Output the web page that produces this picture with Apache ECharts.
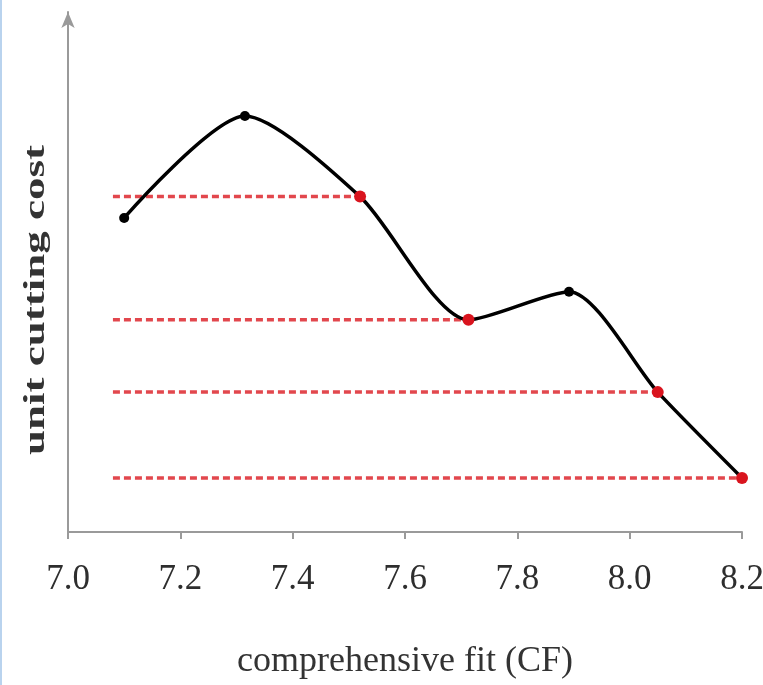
<!DOCTYPE html>
<html>
<head>
<meta charset="utf-8">
<script src="https://cdn.jsdelivr.net/npm/echarts@6/dist/echarts.min.js"></script>
<style>
  html, body { margin: 0; padding: 0; background: #fff; }
  #chart { width: 763px; height: 685px; }
</style>
</head>
<body>
<div id="chart"></div>
<script>
// Comprehensive fit (CF) vs. unit cutting cost
const cfValues   = [7.10, 7.315, 7.52, 7.713, 7.892, 8.05, 8.20];
const costValues = [60.4, 80.0, 64.5, 40.8, 46.2, 26.9, 10.4];
// points that sit on a horizontal cost level (drawn red, with a dashed guide)
const isLevelPoint = [false, false, true, true, false, true, true];
const xTickLabels = ['7.0', '7.2', '7.4', '7.6', '7.8', '8.0', '8.2'];
const levelStartCF = 7.08;
const yAxisTitle = 'unit cutting cost';

const serif = '"Liberation Serif", "DejaVu Serif", serif';

const curveData = cfValues.map((x, i) => ({
  value: [x, costValues[i]],
  symbolSize: isLevelPoint[i] ? 12 : 10,
  itemStyle: { color: isLevelPoint[i] ? '#d9141e' : '#000' }
}));

const levelSeries = [];
cfValues.forEach((x, i) => {
  if (!isLevelPoint[i]) return;
  levelSeries.push({
    type: 'line',
    data: [[levelStartCF, costValues[i]], [x, costValues[i]]],
    symbol: 'none',
    silent: true,
    z: 1,
    lineStyle: { color: '#e2474d', width: 3.5, type: [7, 4] }
  });
});

const chart = echarts.init(document.getElementById('chart'), null, { renderer: 'canvas' });
chart.setOption({
  animation: false,
  backgroundColor: '#fff',
  graphic: [
    {
      type: 'rect',
      left: 0, top: 0,
      shape: { width: 2, height: 685 },
      style: { fill: '#b9d3ee' }
    },
    {
      // vertical axis title, stretched along its length
      type: 'text',
      x: 36, y: 300,
      rotation: Math.PI / 2,
      scaleX: 1.5,
      style: {
        text: yAxisTitle,
        font: 'bold 30px ' + serif,
        fill: '#333',
        align: 'center',
        verticalAlign: 'middle'
      }
    }
  ],
  grid: { left: 68, right: 21, top: 12, bottom: 153, outerBoundsMode: 'none', containLabel: false },
  xAxis: {
    type: 'value',
    min: 7.0, max: 8.2, interval: 0.2,
    name: 'comprehensive fit (CF)',
    nameLocation: 'middle',
    nameGap: 112,
    nameTextStyle: { fontFamily: serif, fontSize: 36, color: '#333' },
    axisLine: { lineStyle: { color: '#9a9a9a', width: 2 } },
    axisTick: { show: true, length: 7, lineStyle: { color: '#9a9a9a', width: 2 } },
    splitLine: { show: false },
    axisLabel: {
      margin: 30,
      fontFamily: serif, fontSize: 35, color: '#2e2e2e',
      formatter: (v) => xTickLabels[Math.round((v - 7.0) / 0.2)]
    }
  },
  yAxis: {
    type: 'value',
    min: 0, max: 100,
    axisLine: {
      show: true,
      symbol: ['none', 'arrow'],
      symbolSize: [10, 16],
      lineStyle: { color: '#9a9a9a', width: 2 }
    },
    axisTick: { show: false },
    axisLabel: { show: false },
    splitLine: { show: false }
  },
  series: levelSeries.concat([{
    type: 'line',
    data: curveData,
    smooth: 0.25,
    symbol: 'circle',
    z: 3,
    lineStyle: { color: '#000', width: 3.5 }
  }])
});
</script>
</body>
</html>
